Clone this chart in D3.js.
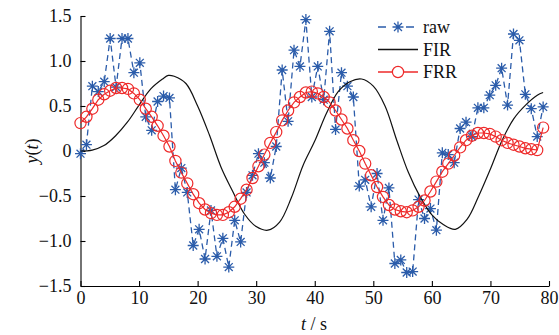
<!DOCTYPE html>
<html>
<head>
<meta charset="utf-8">
<script src="https://cdn.jsdelivr.net/npm/d3@7"></script>
<style>
  html, body { margin: 0; padding: 0; background: #fff; }
  svg { display: block; }
  svg text { font-family: 'Liberation Serif', 'Times New Roman', serif; }
</style>
</head>
<body>
<svg id="chart"></svg>
<script>
// raw samples, one every sampleStep seconds
const rawValues = [
  -0.03, 0.07, 0.72, 0.66, 0.77, 1.25, 0.71, 1.25, 1.25, 0.87,
  0.98, 0.38, 0.23, 0.55, 0.61, 0.59, -0.43, -0.19, -0.46, -1.05,
  -0.87, -1.20, -0.66, -1.17, -0.97, -1.29, -0.77, -1.01, -0.46, -0.27,
  -0.03, -0.13, -0.30, 0.05, 0.90, 0.33, 1.12, 0.94, 1.46, 0.60,
  0.94, 0.57, 1.33, 0.24, 0.87, 0.72, 0.60, -0.39, -0.32, -0.62,
  -0.25, -0.77, -0.41, -1.25, -1.21, -1.35, -1.34, -0.54, -0.75, -0.64,
  -0.88, -0.02, -0.04, -0.13, 0.25, 0.32, 0.16, 0.48, 0.48, 0.62,
  0.73, 0.92, 0.51, 1.30, 1.23, 0.63, 0.47, 0.16, 0.49
]

const frrValues = [
  0.31, 0.38, 0.47, 0.57, 0.63, 0.67, 0.70, 0.70, 0.69, 0.64,
  0.57, 0.47, 0.38, 0.28, 0.17, 0.05, -0.11, -0.24, -0.36, -0.48,
  -0.58, -0.65, -0.69, -0.71, -0.71, -0.68, -0.62, -0.53, -0.43, -0.30,
  -0.17, -0.04, 0.09, 0.21, 0.34, 0.45, 0.54, 0.60, 0.65, 0.66,
  0.64, 0.60, 0.54, 0.45, 0.35, 0.25, 0.12, 0.00, -0.14, -0.27,
  -0.40, -0.51, -0.60, -0.65, -0.67, -0.68, -0.66, -0.62, -0.55, -0.45,
  -0.34, -0.23, -0.14, -0.05, 0.04, 0.12, 0.17, 0.20, 0.20, 0.19,
  0.16, 0.12, 0.09, 0.07, 0.05, 0.03, 0.02, 0.01, 0.26
]

const sampleStep = 79 / 78

const firTimes = [0, 2, 4, 6, 8, 10, 12, 14, 15, 16, 18, 20, 22, 24, 26, 28, 30, 32, 34, 36,
  38, 40, 42, 44, 46, 48, 50, 52, 54, 56, 58, 60, 62, 64, 66, 68, 70, 72, 74, 76, 78, 79]
const firValues = [0, 0.01, 0.06, 0.17, 0.32, 0.51, 0.69, 0.80, 0.84, 0.83, 0.75, 0.50, 0.18,
  -0.18, -0.45, -0.70, -0.84, -0.88, -0.79, -0.52, -0.16, 0.11, 0.42, 0.66, 0.77, 0.80, 0.72,
  0.50, 0.12, -0.24, -0.51, -0.71, -0.82, -0.87, -0.76, -0.50, -0.20, 0.12, 0.36, 0.51, 0.62, 0.65]

const xTicks = [0, 10, 20, 30, 40, 50, 60, 70, 80]
const yTicks = [-1.5, -1, -0.5, 0, 0.5, 1, 1.5]
const yTickLabels = ["\u22121.5", "\u22121.0", "\u22120.5", "0", "0.5", "1.0", "1.5"]
const seriesNames = ["raw", "FIR", "FRR"]

const width = 559
const height = 335
const serif = "'Liberation Serif', 'Times New Roman', serif"
const blue = "#2b5caa"
const red = "#ee2a2a"

const svg = d3.select("#chart")
  .attr("width", width)
  .attr("height", height)

const x = d3.scaleLinear().domain([0, 80]).range([80.5, 549])
const y = d3.scaleLinear().domain([-1.5, 1.5]).range([286, 16])

const raw = rawValues.map((v, i) => ({ t: i * sampleStep, v }))
const frr = frrValues.map((v, i) => ({ t: i * sampleStep, v }))
const fir = firTimes.map((t, i) => ({ t, v: firValues[i] }))

// matlab style "*" marker: plus + cross
const asterisk = {
  draw(ctx, size) {
    const r = Math.sqrt(size) / 2
    const d = r * 0.72
    ctx.moveTo(0, -r); ctx.lineTo(0, r)
    ctx.moveTo(-r, 0); ctx.lineTo(r, 0)
    ctx.moveTo(-d, -d); ctx.lineTo(d, d)
    ctx.moveTo(-d, d); ctx.lineTo(d, -d)
  }
}
const starPath = d3.symbol().type(asterisk).size(121)()

const line = d3.line()
  .x(d => x(d.t))
  .y(d => y(d.v))

// axes
svg.append("g")
  .attr("transform", `translate(0,${y(-1.5)})`)
  .call(d3.axisBottom(x).tickValues(xTicks).tickSizeInner(-5).tickSizeOuter(0).tickPadding(5))
  .attr("font-family", null)
svg.append("g")
  .attr("transform", `translate(${x(0)},0)`)
  .call(d3.axisLeft(y).tickValues(yTicks).tickFormat((d, i) => yTickLabels[i])
    .tickSizeInner(-5).tickSizeOuter(0).tickPadding(9))
  .attr("font-family", null)

svg.selectAll(".domain, .tick line").attr("stroke", "#000").attr("stroke-width", 1.1)
svg.selectAll(".tick text")
  .style("font-family", serif)
  .attr("font-size", 18)
  .attr("fill", "#111")

// raw
svg.append("path")
  .datum(raw)
  .attr("d", line)
  .attr("fill", "none")
  .attr("stroke", blue)
  .attr("stroke-width", 1.3)
  .attr("stroke-dasharray", "6,4")

svg.append("g")
  .selectAll("path")
  .data(raw)
  .join("path")
  .attr("transform", d => `translate(${x(d.t)},${y(d.v)})`)
  .attr("d", starPath)
  .attr("fill", "none")
  .attr("stroke", blue)
  .attr("stroke-width", 1.3)

// FIR
svg.append("path")
  .datum(fir)
  .attr("d", line.curve(d3.curveCatmullRom))
  .attr("fill", "none")
  .attr("stroke", "#111")
  .attr("stroke-width", 1.2)
line.curve(d3.curveLinear)

// FRR
svg.append("path")
  .datum(frr)
  .attr("d", line)
  .attr("fill", "none")
  .attr("stroke", red)
  .attr("stroke-width", 1.2)

svg.append("g")
  .selectAll("circle")
  .data(frr)
  .join("circle")
  .attr("cx", d => x(d.t))
  .attr("cy", d => y(d.v))
  .attr("r", 5.6)
  .attr("fill", "none")
  .attr("stroke", red)
  .attr("stroke-width", 1.2)

// legend
const legend = svg.append("g").attr("transform", "translate(378,27)")
const rowH = 22.5
seriesNames.forEach((name, i) => {
  const row = legend.append("g").attr("transform", `translate(0,${i * rowH})`)
  const col = i === 0 ? blue : i === 1 ? "#111" : red
  row.append("line")
    .attr("x1", 0).attr("x2", 40).attr("y1", 0).attr("y2", 0)
    .attr("stroke", col)
    .attr("stroke-width", 1.3)
    .attr("stroke-dasharray", i === 0 ? "8,4,0,16,8" : null)
  if (i === 0) {
    row.append("path").attr("transform", "translate(20,0)").attr("d", starPath)
      .attr("fill", "none").attr("stroke", blue).attr("stroke-width", 1.3)
  }
  if (i === 2) {
    row.append("circle").attr("cx", 20).attr("cy", 0).attr("r", 5.6)
      .attr("fill", "#fff").attr("stroke", red).attr("stroke-width", 1.2)
  }
  row.append("text")
    .attr("x", 45)
    .attr("dy", "0.35em")
    .style("font-family", serif)
    .attr("font-size", 18)
    .attr("fill", "#111")
    .text(name)
})

// axis titles
const xTitle = svg.append("text")
  .attr("x", 314)
  .attr("y", 330)
  .attr("text-anchor", "middle")
  .style("font-family", serif)
  .attr("font-size", 18)
  .attr("fill", "#111")
xTitle.append("tspan").attr("font-style", "italic").text("t")
xTitle.append("tspan").text(" / s")

const yTitle = svg.append("text")
  .attr("transform", "translate(38,151) rotate(-90)")
  .attr("text-anchor", "middle")
  .style("font-family", serif)
  .attr("font-size", 18)
  .attr("fill", "#111")
yTitle.append("tspan").attr("font-style", "italic").text("y")
yTitle.append("tspan").text("(")
yTitle.append("tspan").attr("font-style", "italic").text("t")
yTitle.append("tspan").text(")")
</script>
</body>
</html>
